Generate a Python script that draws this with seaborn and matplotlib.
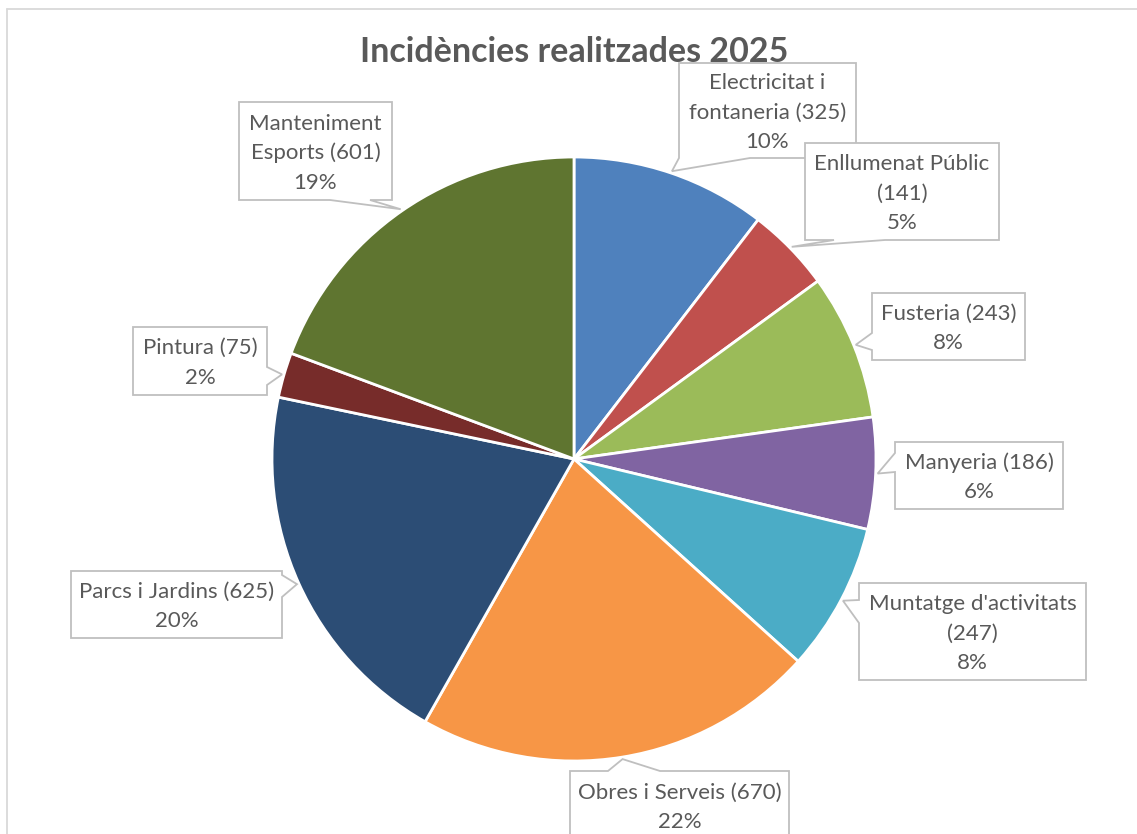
import textwrap

import matplotlib
matplotlib.use("Agg")
import matplotlib.pyplot as plt
import numpy as np
import seaborn as sns
from matplotlib.patches import Polygon

# data
categories = [
    "Electricitat i fontaneria",
    "Enllumenat Públic",
    "Fusteria",
    "Manyeria",
    "Muntatge d'activitats",
    "Obres i Serveis",
    "Parcs i Jardins",
    "Pintura",
    "Manteniment Esports",
]
counts = [325, 141, 243, 186, 247, 670, 625, 75, 601]
colors = [
    "#4F81BD", "#C0504D", "#9BBB59", "#8064A2", "#4BACC6",
    "#F79646", "#2C4D75", "#772C2A", "#5F7530",
]
title = "Incidències realitzades 2025"

# callout boxes in pixel coords (y down): x0, y0, x1, y1, side, base a, base b, wrap width
callouts = [
    (679, 63, 856, 158, "bottom", 679, 750, 16),
    (805, 143, 999, 240, "bottom", 834, 885, 17),
    (872, 293, 1025, 360, "left", 333, 350, 40),
    (895, 442, 1063, 509, "left", 453, 472, 40),
    (859, 583, 1086, 680, "left", 600, 623, 21),
    (570, 771, 789, 840, "top", 608, 660, 40),
    (71, 571, 282, 638, "right", 575, 597, 40),
    (133, 327, 267, 395, "right", 367, 385, 40),
    (239, 102, 392, 200, "bottom", 330, 370, 13),
]

W, H = 1137, 834
CX, CY, R = 574, 459, 302
TEXT = "#595959"
EDGE = "#BFBFBF"

sns.set_theme(style="white")
plt.rcParams["font.family"] = ["Lato", "DejaVu Sans"]


def callout_points(x0, y0, x1, y1, side, a, b, tip):
    if side == "top":
        pts = [(x0, y0), (a, y0), tip, (b, y0), (x1, y0), (x1, y1), (x0, y1)]
    elif side == "right":
        pts = [(x0, y0), (x1, y0), (x1, a), tip, (x1, b), (x1, y1), (x0, y1)]
    elif side == "bottom":
        pts = [(x0, y0), (x1, y0), (x1, y1), (b, y1), tip, (a, y1), (x0, y1)]
    else:
        pts = [(x0, y0), (x1, y0), (x1, y1), (x0, y1), (x0, b), tip, (x0, a)]
    return [(px, H - py) for px, py in pts]


fig = plt.figure(figsize=(W / 100, H / 100), dpi=100)
ax = fig.add_axes([0, 0, 1, 1])

wedges, _ = ax.pie(
    counts,
    colors=colors,
    startangle=90,
    counterclock=False,
    center=(CX, H - CY),
    radius=R,
    wedgeprops=dict(edgecolor="white", linewidth=2),
)
ax.set_xlim(0, W)
ax.set_ylim(0, H)
ax.set_aspect("equal")
ax.axis("off")

total = sum(counts)
for wedge, name, value, spec in zip(wedges, categories, counts, callouts):
    x0, y0, x1, y1, side, a, b, wrap = spec
    mid = np.deg2rad((wedge.theta1 + wedge.theta2) / 2)
    tip = (CX + (R + 2) * np.cos(mid), CY - (R + 2) * np.sin(mid))
    poly = Polygon(callout_points(x0, y0, x1, y1, side, a, b, tip),
                   closed=True, facecolor="white", edgecolor=EDGE,
                   linewidth=1.3, zorder=5)
    ax.add_patch(poly)
    lines = textwrap.wrap(f"{name} ({value})", wrap) + [f"{round(100 * value / total)}%"]
    yc = (y0 + y1) / 2 + 2
    step = 29.5
    for i, line in enumerate(lines):
        ly = yc + (i - (len(lines) - 1) / 2) * step
        ax.text((x0 + x1) / 2, H - ly, line, ha="center", va="center",
                fontsize=16, color=TEXT, zorder=6)

ax.text(574, H - 52, title, ha="center", va="center", fontsize=24.5,
        fontweight="bold", color=TEXT, zorder=4)

# chart area border
ax.plot([7, W], [H - 8.5, H - 8.5], color="#D9D9D9", lw=1.3, zorder=1)
ax.plot([7, 7], [H - 8.5, 0], color="#D9D9D9", lw=1.3, zorder=1)

fig.savefig("out.png", dpi=100, facecolor="white")
